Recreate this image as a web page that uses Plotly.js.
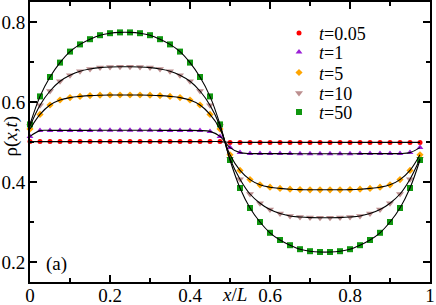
<!DOCTYPE html>
<html>
<head>
<meta charset="utf-8">
<script src="https://cdn.plot.ly/plotly-3.0.1.min.js"></script>
<style>html,body{margin:0;padding:0;background:#fff;}#chart{width:436px;height:305px;}</style>
</head>
<body>
<div id="chart"></div>
<script>
// lattice positions x/L
const xPos = [0, 0.025, 0.05, 0.075, 0.1, 0.125, 0.15, 0.175, 0.2, 0.225,
  0.25, 0.275, 0.3, 0.325, 0.35, 0.375, 0.4, 0.425, 0.45, 0.475,
  0.5, 0.525, 0.55, 0.575, 0.6, 0.625, 0.65, 0.675, 0.7, 0.725,
  0.75, 0.775, 0.8, 0.825, 0.85, 0.875, 0.9, 0.925, 0.95, 0.975];

const seriesNames = ["<i>t</i>=0.05", "<i>t</i>=1", "<i>t</i>=5", "<i>t</i>=10", "<i>t</i>=50"];

const rho_t005 = [0.501, 0.501, 0.501, 0.501, 0.501, 0.501, 0.501, 0.501, 0.501, 0.501,
  0.501, 0.501, 0.501, 0.501, 0.501, 0.501, 0.501, 0.501, 0.501, 0.501,
  0.499, 0.499, 0.499, 0.499, 0.499, 0.499, 0.499, 0.499, 0.499, 0.499,
  0.499, 0.499, 0.499, 0.499, 0.499, 0.499, 0.499, 0.499, 0.499, 0.499];

const rho_t1 = [0.514, 0.5285, 0.529, 0.529, 0.529, 0.529, 0.529, 0.5295, 0.5295, 0.5295,
  0.5295, 0.5295, 0.5295, 0.529, 0.529, 0.529, 0.529, 0.5285, 0.5265, 0.514,
  0.486, 0.4735, 0.471, 0.471, 0.471, 0.471, 0.471, 0.4705, 0.4705, 0.4705,
  0.4705, 0.4705, 0.4705, 0.471, 0.471, 0.471, 0.471, 0.471, 0.4735, 0.486];

const rho_t5 = [0.5325, 0.569, 0.5925, 0.605, 0.611, 0.614, 0.616, 0.617, 0.6175, 0.6175,
  0.6175, 0.6175, 0.617, 0.616, 0.614, 0.611, 0.605, 0.5925, 0.569, 0.5325,
  0.468, 0.429, 0.406, 0.393, 0.387, 0.384, 0.382, 0.381, 0.3805, 0.3805,
  0.3805, 0.3805, 0.381, 0.382, 0.384, 0.387, 0.393, 0.406, 0.429, 0.468];

const rho_t10 = [0.540, 0.592, 0.6275, 0.652, 0.667, 0.677, 0.6825, 0.686, 0.6875, 0.688,
  0.688, 0.6875, 0.686, 0.6825, 0.677, 0.667, 0.652, 0.6275, 0.592, 0.540,
  0.458, 0.407, 0.370, 0.347, 0.331, 0.321, 0.315, 0.3125, 0.311, 0.3105,
  0.3105, 0.311, 0.3125, 0.315, 0.321, 0.331, 0.347, 0.370, 0.407, 0.458];

const rho_t50 = [0.544, 0.614, 0.6625, 0.6985, 0.726, 0.744, 0.757, 0.767, 0.772, 0.774,
  0.774, 0.772, 0.767, 0.757, 0.744, 0.726, 0.6985, 0.6625, 0.614, 0.544,
  0.455, 0.385, 0.335, 0.300, 0.273, 0.255, 0.242, 0.232, 0.227, 0.225,
  0.225, 0.227, 0.232, 0.242, 0.255, 0.273, 0.300, 0.335, 0.385, 0.455];

const xTickVals = [0, 0.2, 0.4, 0.6, 0.8, 1];
const xTickText = ["0", "0.2", "0.4", "0.6", "0.8", "1"];
const yTickVals = [0.2, 0.4, 0.6, 0.8];
const yTickText = ["0.2", "0.4", "0.6", "0.8"];

const allSeries = [rho_t005, rho_t1, rho_t5, rho_t10, rho_t50];
const colors = ["#ff0000", "#9b1fd6", "#ffa500", "#bc8f8f", "#0f960f"];
const symbols = ["circle", "triangle-up", "diamond", "triangle-down", "square"];
const sizes = [5, 6, 5.5, 7, 6];
const legendIds = ["legend", "legend2", "legend3", "legend4", "legend5"];
const legendRowY = [0.888, 0.82, 0.747, 0.674, 0.606];

const serif = "Liberation Serif, Times New Roman, serif";
const traces = [];
allSeries.forEach((ys, k) => {
  traces.push({
    x: xPos, y: ys, type: "scatter", mode: "markers", name: seriesNames[k],
    legend: legendIds[k],
    marker: {color: colors[k], symbol: symbols[k], size: sizes[k], line: {width: 0}},
    cliponaxis: false
  });
});
allSeries.forEach((ys, k) => {
  traces.push({
    x: xPos, y: ys, type: "scatter", mode: "lines", showlegend: false,
    line: {color: "#000", width: 1.1, shape: "spline", smoothing: 1},
    hoverinfo: "skip"
  });
});

const axisCommon = {
  showline: true, linecolor: "#000", linewidth: 2, mirror: "ticks",
  ticks: "inside", ticklen: 7, tickwidth: 1.5, tickcolor: "#000",
  showgrid: false, zeroline: false,
  tickfont: {family: serif, size: 19, color: "#000"},
  minor: {ticks: "inside", ticklen: 4, tickwidth: 1.2, tickcolor: "#000", dtick: 0.1, showgrid: false}
};

const layout = {
  width: 436, height: 305,
  margin: {l: 30, r: 6, t: 2, b: 23},
  paper_bgcolor: "#fff", plot_bgcolor: "#fff",
  font: {family: serif, size: 19, color: "#000"},
  xaxis: Object.assign({}, axisCommon, {
    range: [0, 1], tickmode: "array", tickvals: xTickVals, ticktext: xTickText,
    ticklabelstandoff: -5
  }),
  yaxis: Object.assign({}, axisCommon, {
    range: [0.15, 0.85], tickmode: "array", tickvals: yTickVals, ticktext: yTickText,
    ticklabelstandoff: -1
  }),
  showlegend: true,
  annotations: [
    {text: "<i>x</i>/<i>L</i>", xref: "paper", yref: "paper", x: 0.51, y: -0.045,
     xanchor: "center", yanchor: "middle", showarrow: false,
     font: {family: serif, size: 19, color: "#000"}},
    {text: "ρ(<i>x</i>,<i>t</i>)", xref: "paper", yref: "paper", x: -0.047, y: 0.52,
     xanchor: "center", yanchor: "middle", showarrow: false, textangle: -90,
     font: {family: serif, size: 19, color: "#000"}},
    {text: "(a)", xref: "paper", yref: "paper", x: 0.066, y: 0.066,
     xanchor: "center", yanchor: "middle", showarrow: false,
     font: {family: serif, size: 19, color: "#000"}}
  ]
};
legendIds.forEach((id, k) => {
  layout[id] = {
    x: 0.6225, y: legendRowY[k], xanchor: "left", yanchor: "middle",
    bgcolor: "rgba(0,0,0,0)", borderwidth: 0,
    font: {family: serif, size: 18, color: "#000"},
    itemwidth: 30
  };
});

Plotly.newPlot("chart", traces, layout, {displayModeBar: false, staticPlot: true});
</script>
</body>
</html>
